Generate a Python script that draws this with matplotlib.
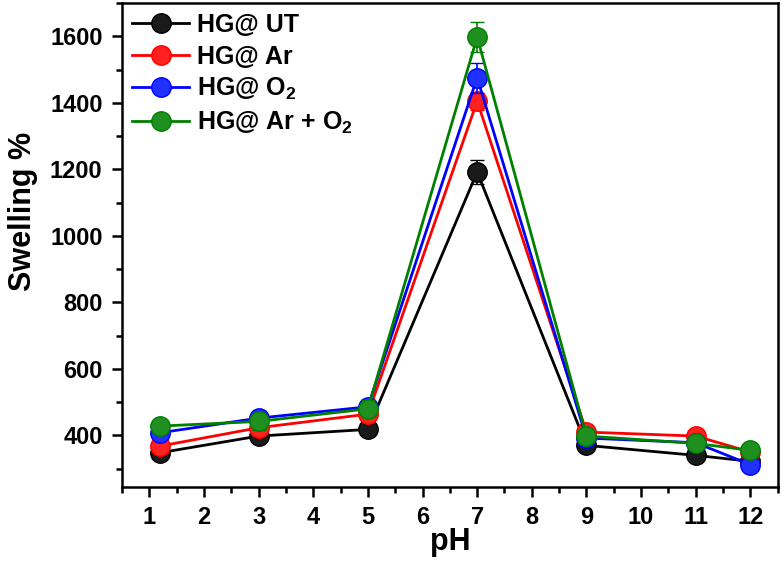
import numpy as np
import matplotlib.pyplot as plt
from matplotlib.ticker import MultipleLocator

plt.rcParams['font.family'] = ['Liberation Sans', 'DejaVu Sans']
plt.rcParams['font.weight'] = 'bold'
plt.rcParams['mathtext.fontset'] = 'custom'
plt.rcParams['mathtext.rm'] = 'Liberation Sans:bold'
plt.rcParams['mathtext.bf'] = 'Liberation Sans:bold'

ph = [1.2, 3, 5, 7, 9, 11, 12]

ut = [348, 398, 418, 1192, 370, 340, 322]
ar = [368, 423, 464, 1405, 410, 398, 350]
o2 = [408, 452, 486, 1476, 392, 378, 312]
ar_o2 = [428, 442, 480, 1598, 398, 376, 355]

ut_err = [15, 15, 15, 35, 15, 15, 15]
ar_err = [20, 20, 20, 25, 15, 15, 15]
o2_err = [15, 20, 20, 45, 15, 15, 15]
ar_o2_err = [15, 25, 25, 45, 15, 15, 15]

labels = ['HG@ UT', 'HG@ Ar', r'HG@ O$_\mathbf{2}$', r'HG@ Ar + O$_\mathbf{2}$']
colors = ['#000000', '#ff0000', '#0000ff', '#008000']
faces = ['#1a1a1a', '#ff2020', '#2030ff', '#1f8f1f']

fig = plt.figure(figsize=(7.82, 5.61), dpi=100)
ax = fig.add_axes([0.156, 0.132, 0.8385, 0.8625])

series = [ut, ar, o2, ar_o2]
errs = [ut_err, ar_err, o2_err, ar_o2_err]
handles = []
for i in range(4):
    c = ax.errorbar(ph, series[i], yerr=errs[i], color=colors[i], lw=2,
                    marker='o', markersize=14, markerfacecolor=faces[i],
                    markeredgecolor=colors[i], markeredgewidth=1,
                    ecolor=colors[i], elinewidth=1.2, capsize=5, capthick=1.2,
                    label=labels[i], zorder=2 + i)
    handles.append(c[0])
    # small highlight for the shiny sphere look
    ax.plot(ph, series[i], linestyle='none', marker='o', markersize=3,
            color='white', alpha=0.6, zorder=2 + i)

ax.set_xlim(0.5, 12.5)
ax.set_ylim(245, 1700)
ax.set_xticks(range(1, 13))
ax.xaxis.set_minor_locator(MultipleLocator(0.5))
ax.yaxis.set_minor_locator(MultipleLocator(100))
ax.set_yticks([400, 600, 800, 1000, 1200, 1400, 1600])

ax.tick_params(which='major', direction='out', length=7, width=1.8,
               labelsize=17, top=False, right=False, pad=7)
ax.tick_params(which='minor', direction='out', length=4, width=1.8,
               top=False, right=False)
for s in ax.spines.values():
    s.set_linewidth(1.8)

ax.set_xlabel('pH', fontsize=22, fontweight='bold', labelpad=-2)
ax.set_ylabel('Swelling %', fontsize=22, fontweight='bold')
ax.yaxis.set_label_coords(-0.128, 0.57)

ax.legend(handles, labels, loc='upper left', frameon=False, fontsize=18,
          handlelength=2.3, handletextpad=0.3, labelspacing=0.3,
          borderaxespad=0.0, bbox_to_anchor=(0.0, 1.0))

fig.savefig('out.png', dpi=100)
